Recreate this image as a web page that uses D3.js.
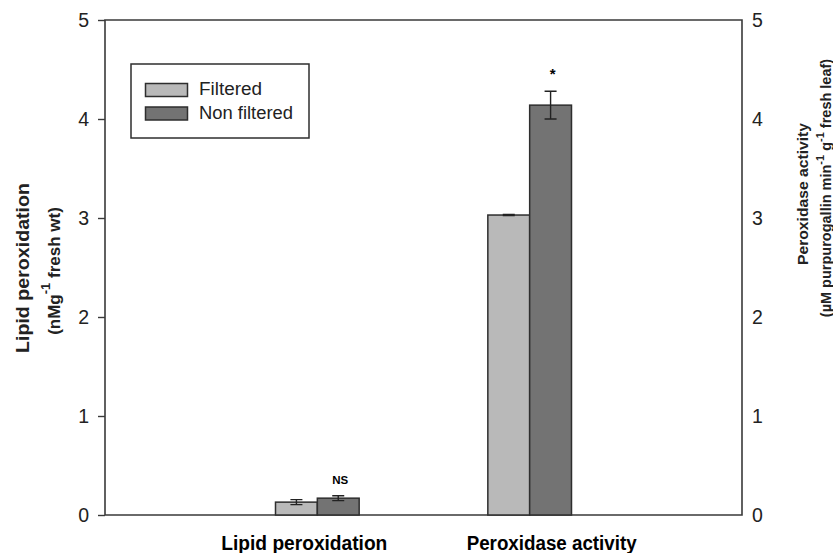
<!DOCTYPE html>
<html><head><meta charset="utf-8">
<script src="https://cdn.jsdelivr.net/npm/d3@7"></script>
<style>body{margin:0;background:#fff}svg{display:block}text{font-family:"Liberation Sans",Arial,sans-serif}</style>
</head><body><svg id="c" width="833" height="553"></svg>
<script>
const categories = ["Lipid peroxidation", "Peroxidase activity"];
const series = ["Filtered", "Non filtered"];
const filteredValues = [0.13, 3.03];
const filteredErrors = [0.025, 0.005];
const nonFilteredValues = [0.17, 4.14];
const nonFilteredErrors = [0.025, 0.14];
const significance = ["NS", "*"];
const yTicks = [0, 1, 2, 3, 4, 5];
const colors = ["#b9b9b9", "#737373"];

const svg = d3.select("#c");
const L = 105, R = 742, T = 20, B = 515;
const x = d3.scaleLinear().domain([0, 3]).range([L, R]);
const y = d3.scaleLinear().domain([0, 5]).range([B, T]);
const bw = (x(1) - x(0)) * 0.197;
const labelShift = [-13, 22];
const labelLen = [166, 170];

// frame
svg.append("path").attr("d", `M${L},${B}V${T}H${R}V${B}Z`)
  .attr("fill", "none").attr("stroke", "#3a3a3a").attr("stroke-width", 1.6);

// left axis
const ly = svg.append("g").attr("transform", `translate(${L},0)`)
  .call(d3.axisLeft(y).tickValues(yTicks).tickSize(7).tickPadding(9).tickFormat(d3.format("d")));
ly.select(".domain").remove();
ly.selectAll("line").attr("stroke", "#3a3a3a").attr("stroke-width", 1.4);
ly.selectAll("text").attr("font-size", 19.5).attr("fill", "#222");

// right axis (labels only)
const ry = svg.append("g").attr("transform", `translate(${R},0)`)
  .call(d3.axisRight(y).tickValues(yTicks).tickSize(0).tickPadding(10).tickFormat(d3.format("d")));
ry.select(".domain").remove();
ry.selectAll("text").attr("font-size", 19.5).attr("fill", "#222");

const data = categories.map((c, i) => ({
  c, i,
  vals: [
    {s: 0, v: filteredValues[i], e: filteredErrors[i]},
    {s: 1, v: nonFilteredValues[i], e: nonFilteredErrors[i]}
  ]
}));

const g = svg.selectAll("g.grp").data(data).join("g").attr("class", "grp");
g.each(function(d) {
  const cx = x(d.i + 1);
  const sel = d3.select(this);
  d.vals.forEach(b => {
    const x0 = cx - bw + b.s * bw;
    sel.append("rect").attr("x", x0).attr("y", y(b.v)).attr("width", bw).attr("height", y(0) - y(b.v))
      .attr("fill", colors[b.s]).attr("stroke", "#2e2e2e").attr("stroke-width", 1.5);
    const xm = x0 + bw / 2;
    sel.append("path").attr("d",
      `M${xm},${y(b.v + b.e)}V${y(b.v - b.e)}M${xm - 6},${y(b.v + b.e)}H${xm + 6}M${xm - 6},${y(b.v - b.e)}H${xm + 6}`)
      .attr("stroke", "#222").attr("stroke-width", 1.4).attr("fill", "none");
  });
  const top = d.vals[1];
  sel.append("text").attr("x", cx + bw / 2 + 2).attr("y", y(top.v + top.e) - 12)
    .attr("text-anchor", "middle").attr("font-weight", "bold")
    .attr("font-size", d.i === 0 ? 11.5 : 15).text(significance[d.i]);
  sel.append("text").attr("x", cx + labelShift[d.i]).attr("y", 550).attr("text-anchor", "middle")
    .attr("font-weight", "bold").attr("font-size", 20)
    .attr("textLength", labelLen[d.i]).attr("lengthAdjust", "spacingAndGlyphs").text(d.c);
});

// legend
const lg = svg.append("g");
lg.append("rect").attr("x", 131).attr("y", 64).attr("width", 178).attr("height", 74)
  .attr("fill", "#fff").attr("stroke", "#2e2e2e").attr("stroke-width", 1.5);
series.forEach((s, i) => {
  lg.append("rect").attr("x", 145.5).attr("y", 83.5 + i * 23.5).attr("width", 42).attr("height", 13)
    .attr("fill", colors[i]).attr("stroke", "#2e2e2e").attr("stroke-width", 1.5);
  lg.append("text").attr("x", 199).attr("y", 95 + i * 23.5).attr("font-size", 18).attr("fill", "#222")
    .attr("textLength", i === 0 ? 63 : 94).attr("lengthAdjust", "spacingAndGlyphs").text(s);
});

// axis titles
svg.append("text").attr("transform", "translate(29,268) rotate(-90)")
  .attr("text-anchor", "middle").attr("font-weight", "bold").attr("font-size", 19).attr("fill", "#222")
  .attr("textLength", 170).attr("lengthAdjust", "spacingAndGlyphs").text("Lipid peroxidation");
const lt2 = svg.append("text").attr("transform", "translate(60,271) rotate(-90)")
  .attr("text-anchor", "middle").attr("font-weight", "bold").attr("font-size", 17).attr("fill", "#222");
lt2.append("tspan").text("(nMg");
lt2.append("tspan").attr("dy", -10).attr("font-size", 13).text("-1");
lt2.append("tspan").attr("dy", 10).text(" fresh wt)");

svg.append("text").attr("transform", "translate(808,194) rotate(-90)")
  .attr("text-anchor", "middle").attr("font-weight", "bold").attr("font-size", 15.5).attr("fill", "#222")
  .attr("textLength", 142).attr("lengthAdjust", "spacingAndGlyphs").text("Peroxidase activity");
const rt2 = svg.append("text").attr("transform", "translate(831,188) rotate(-90)")
  .attr("text-anchor", "middle").attr("font-weight", "bold").attr("font-size", 14.5).attr("fill", "#222");
rt2.append("tspan").text("(µM purpurogallin min");
rt2.append("tspan").attr("dy", -7).attr("font-size", 11).text("-1");
rt2.append("tspan").attr("dy", 7).text("  g");
rt2.append("tspan").attr("dy", -7).attr("font-size", 11).text("-1");
rt2.append("tspan").attr("dy", 7).text("  fresh leaf)");
</script></body></html>
